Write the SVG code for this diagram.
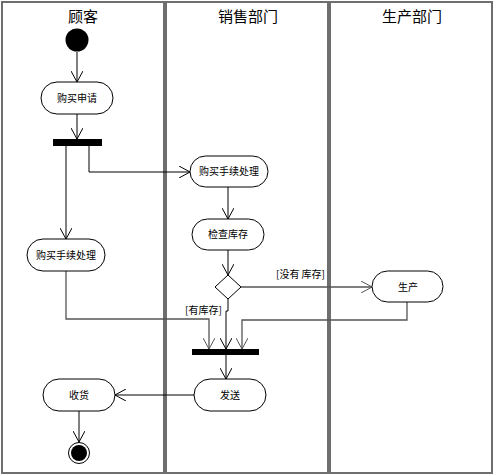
<svg xmlns="http://www.w3.org/2000/svg" width="495" height="476" viewBox="0 0 495 476">
<defs>
<style>
.lane{fill:#fff;stroke:#6e6e6e;stroke-width:2}
.title{font-family:"Noto Sans CJK SC","Liberation Sans",sans-serif;font-size:15px;text-anchor:middle;fill:#000}
.act{fill:#fff;stroke:#000;stroke-width:1}
.lbl{font-family:"Noto Sans CJK SC","Liberation Sans",sans-serif;font-size:10px;text-anchor:middle;fill:#000}
.guard{font-family:"Noto Sans CJK SC","Liberation Sans",sans-serif;font-size:10px;fill:#000}
.c{fill:none;stroke:#000;stroke-width:1;marker-end:url(#arr)}
.g{fill:none;stroke:#555;stroke-width:1.3;marker-end:url(#arrg)}
</style>
<marker id="arr" viewBox="0 0 12 12" refX="11" refY="6" markerWidth="12" markerHeight="12" markerUnits="userSpaceOnUse" orient="auto">
<path d="M0,0 L11,6 L0,12" fill="none" stroke="#000" stroke-width="1"/>
</marker>
<marker id="arrg" viewBox="0 0 12 12" refX="11" refY="6" markerWidth="12" markerHeight="12" markerUnits="userSpaceOnUse" orient="auto">
<path d="M0,0 L11,6 L0,12" fill="none" stroke="#555" stroke-width="1"/>
</marker>
</defs>
<g id="lanes">
<rect class="lane" x="2" y="2" width="162" height="471"/>
<rect class="lane" x="166" y="2" width="162" height="471"/>
<rect class="lane" x="330" y="2" width="162" height="471"/>
<text class="title" x="83" y="22">顾客</text>
<text class="title" x="248" y="22">销售部门</text>
<text class="title" x="412" y="22">生产部门</text>
</g>
<g id="connectors">
<path class="c" d="M77,52 V82"/>
<path class="c" d="M77,114 V139"/>
<path class="c" d="M66,146 V239"/>
<path class="c" d="M89,146 V172 H190"/>
<path class="c" d="M228,187 V219"/>
<path class="c" d="M228,250 V275"/>
<path class="g" d="M241,287 H372"/>
<text class="guard" x="276" y="278">[没有 库存]</text>
<path class="c" d="M228,299 V311 H226 V349"/>
<text class="guard" x="185" y="314">[有库存]</text>
<path class="g" d="M66,271 V319 H209 V349"/>
<path class="g" d="M407,302 V320 H242 V349"/>
<path class="c" d="M226,355 V379"/>
<path class="c" d="M194,395 H115"/>
<path class="c" d="M79,411 V442"/>
</g>
<g id="start"><circle cx="77" cy="40" r="11.5" fill="#000"/></g>
<g id="apply"><rect class="act" x="41" y="82" width="72" height="32" rx="16"/><text class="lbl" x="77" y="102">购买申请</text></g>
<g id="fork"><rect x="53" y="139" width="49" height="7" fill="#000"/></g>
<g id="proc-customer"><rect class="act" x="27" y="239" width="78" height="32" rx="16"/><text class="lbl" x="66" y="259">购买手续处理</text></g>
<g id="proc-sales"><rect class="act" x="190" y="156" width="78" height="31" rx="15.5"/><text class="lbl" x="229" y="175">购买手续处理</text></g>
<g id="check"><rect class="act" x="192" y="219" width="72" height="31" rx="15.5"/><text class="lbl" x="228" y="238">检查库存</text></g>
<g id="decision"><path d="M228,275 L241,287 L228,299 L215,287 Z" fill="#fff" stroke="#000"/></g>
<g id="produce"><rect class="act" x="372" y="271" width="71" height="31" rx="15.5"/><text class="lbl" x="408" y="291">生产</text></g>
<g id="join"><rect x="192" y="349" width="67" height="6" fill="#000"/></g>
<g id="send"><rect class="act" x="194" y="379" width="72" height="32" rx="16"/><text class="lbl" x="230" y="399">发送</text></g>
<g id="receive"><rect class="act" x="43" y="379" width="72" height="32" rx="16"/><text class="lbl" x="79" y="399">收货</text></g>
<g id="end"><circle cx="79" cy="453" r="10.5" fill="#fff" stroke="#000"/><circle cx="79" cy="453" r="8" fill="#000"/></g>
</svg>
